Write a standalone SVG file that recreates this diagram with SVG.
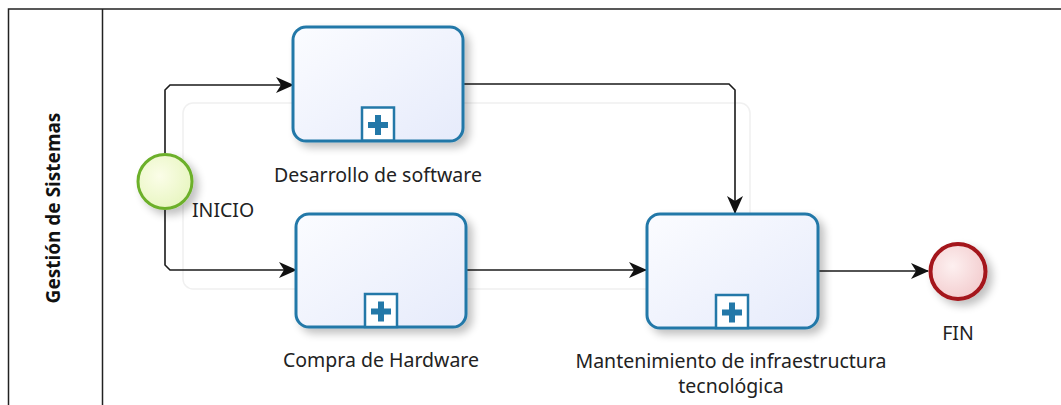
<svg xmlns="http://www.w3.org/2000/svg" width="1061" height="405" viewBox="0 0 1061 405">
  <style>
    .lbl { font-family: "Noto Sans", "Open Sans", sans-serif; font-size: 19.5px; fill: #222; }
    .lane-title { font-family: "Noto Sans", "Open Sans", sans-serif; font-size: 19px; font-weight: bold; fill: #111; }
    .task { fill: url(#taskFill); stroke: #2378a8; stroke-width: 3; filter: url(#shadow); }
    .marker-box { fill: #ffffff; stroke: #2378a8; stroke-width: 2.5; }
    .plus { fill: #2378a8; }
    .flow { fill: none; stroke: #1a1a1a; stroke-width: 1.6; marker-end: url(#arrow); }
  </style>
  <defs>
    <linearGradient id="taskFill" x1="0" y1="0" x2="1" y2="1">
      <stop offset="0" stop-color="#fbfcff"/>
      <stop offset="1" stop-color="#e6ebfb"/>
    </linearGradient>
    <radialGradient id="startFill" cx="0.4" cy="0.4" r="0.7">
      <stop offset="0" stop-color="#fbfde8"/>
      <stop offset="1" stop-color="#e6f5bd"/>
    </radialGradient>
    <radialGradient id="endFill" cx="0.4" cy="0.4" r="0.7">
      <stop offset="0" stop-color="#fdf0f0"/>
      <stop offset="1" stop-color="#f2c9cb"/>
    </radialGradient>
    <filter id="shadow" x="-20%" y="-20%" width="150%" height="150%">
      <feGaussianBlur in="SourceAlpha" stdDeviation="4"/>
      <feOffset dx="5" dy="5" result="b"/>
      <feComponentTransfer><feFuncA type="linear" slope="0.25"/></feComponentTransfer>
      <feMerge><feMergeNode/><feMergeNode in="SourceGraphic"/></feMerge>
    </filter>
    <marker id="arrow" viewBox="0 0 18 16" refX="17" refY="8" markerWidth="18" markerHeight="16" markerUnits="userSpaceOnUse" orient="auto">
      <path d="M0,0 L18,8 L0,16 L5,8 Z" fill="#111"/>
    </marker>
  </defs>

  <rect width="1061" height="405" fill="#ffffff"/>

  <!-- pool / lane frame -->
  <g id="lane">
    <path d="M1070,9 H8.5 V410 M102.5,9 V410" fill="none" stroke="#222" stroke-width="1.5"/>
    <text class="lane-title" transform="translate(60,208) rotate(-90)" text-anchor="middle">Gestión de Sistemas</text>
  </g>

  <!-- faint group outline -->
  <rect x="183" y="103" width="567" height="186" rx="10" fill="none" stroke="#f0f0f0" stroke-width="1.5"/>

  <!-- sequence flows -->
  <g id="connectors">
    <path class="flow" d="M165,153 V90 L170,85 H293"/>
    <path class="flow" d="M165,210 V265 L170,270 H296"/>
    <path class="flow" d="M463,84 H729 L735,90 V213"/>
    <path class="flow" d="M466,270 H646"/>
    <path class="flow" d="M818,271 H928"/>
  </g>

  <g id="start">
    <circle cx="165" cy="181.5" r="27" fill="url(#startFill)" stroke="#6cb02a" stroke-width="3" filter="url(#shadow)"/>
    <text class="lbl" x="192" y="217">INICIO</text>
  </g>

  <g id="task-software">
    <rect class="task" x="293" y="27" width="170" height="114" rx="13"/>
    <rect class="marker-box" x="362" y="107.5" width="32" height="33"/>
    <path class="plus" d="M375,115 h6 v7 h7 v6 h-7 v7 h-6 v-7 h-7 v-6 h7 Z"/>
    <text class="lbl" x="378" y="182" text-anchor="middle">Desarrollo de software</text>
  </g>

  <g id="task-hardware">
    <rect class="task" x="296" y="214" width="170" height="113" rx="13"/>
    <rect class="marker-box" x="365" y="294" width="32" height="33"/>
    <path class="plus" d="M378,301.5 h6 v7 h7 v6 h-7 v7 h-6 v-7 h-7 v-6 h7 Z"/>
    <text class="lbl" x="381" y="367" text-anchor="middle">Compra de Hardware</text>
  </g>

  <g id="task-infra">
    <rect class="task" x="647" y="214" width="171" height="114" rx="13"/>
    <rect class="marker-box" x="716" y="295" width="32" height="33"/>
    <path class="plus" d="M729,302.5 h6 v7 h7 v6 h-7 v7 h-6 v-7 h-7 v-6 h7 Z"/>
    <text class="lbl" x="731" y="368" text-anchor="middle">Mantenimiento de infraestructura</text>
    <text class="lbl" x="731" y="393" text-anchor="middle">tecnológica</text>
  </g>

  <g id="end">
    <circle cx="958" cy="271.5" r="27.5" fill="url(#endFill)" stroke="#a4141a" stroke-width="4" filter="url(#shadow)"/>
    <text class="lbl" x="958" y="340" text-anchor="middle">FIN</text>
  </g>
</svg>
